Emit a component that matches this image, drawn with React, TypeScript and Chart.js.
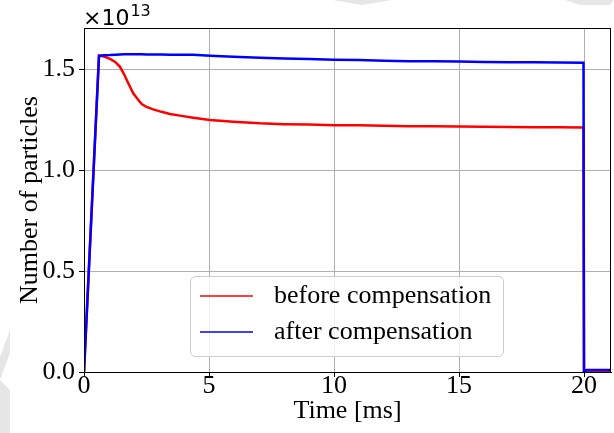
import React, { useEffect, useRef } from "react";
import { Chart, registerables } from "chart.js";

Chart.register(...registerables);

// time axis [ms]
const times = [0, 0.01, 0.6, 0.8, 1.04, 1.25, 1.44, 1.6, 1.71, 1.85, 1.97, 2.15, 2.31, 2.5, 2.77, 3.1, 3.44, 3.9, 4.37, 5.04, 5.97, 7.04, 8, 9, 10, 11, 12, 13, 14, 15, 16, 17, 18, 19, 19.98, 20.0, 20.1, 20.5, 21.08];
// number of particles [x1e13]
const beforeComp = [0, 0, 1.567, 1.562, 1.55, 1.535, 1.511, 1.475, 1.446, 1.41, 1.38, 1.35, 1.327, 1.312, 1.3, 1.288, 1.277, 1.268, 1.259, 1.248, 1.239, 1.231, 1.227, 1.225, 1.222, 1.221, 1.219, 1.217, 1.216, 1.215, 1.214, 1.213, 1.212, 1.212, 1.211, 0.0, 0.006, 0.008, 0.006];
const afterComp = [0, 0, 1.565, 1.568, 1.569, 1.571, 1.572, 1.573, 1.573, 1.573, 1.573, 1.573, 1.573, 1.572, 1.572, 1.572, 1.571, 1.571, 1.57, 1.566, 1.561, 1.556, 1.552, 1.549, 1.546, 1.544, 1.541, 1.539, 1.538, 1.537, 1.535, 1.534, 1.533, 1.532, 1.531, 0.0, 0.01, 0.01, 0.01];

const seriesLabels = ["before compensation", "after compensation"];
const seriesColors = ["#ff0000", "#0000ff"];
const xTicks = [0, 5, 10, 15, 20];
const yTicks = [0, 0.5, 1.0, 1.5];
const xTitle = "Time [ms]";
const yTitle = "Number of particles";
const exponentBase = "×10";
const exponentPower = "13";

const SERIF = "'Liberation Serif', 'Times New Roman', serif";
const SANS = "'DejaVu Sans', sans-serif";

const decorPlugin = {
  id: "decor",
  beforeDraw(chart: any) {
    const ctx = chart.ctx;
    ctx.save();
    ctx.fillStyle = "#e6e6e6";
    const tris = [
      [[333, 0], [392, 0], [362, 5]],
      [[565, 0], [614, 0], [610, 5], [580, 5]],
      [[10, 330], [10, 353], [0, 380], [0, 357]],
      [[0, 380], [10, 390], [10, 433], [0, 433]],
    ];
    for (const t of tris) {
      ctx.beginPath();
      ctx.moveTo(t[0][0], t[0][1]);
      for (let i = 1; i < t.length; i++) ctx.lineTo(t[i][0], t[i][1]);
      ctx.closePath();
      ctx.fill();
    }
    ctx.restore();
  },
  afterDatasetsDraw(chart: any) {
    const { ctx, chartArea: a } = chart;
    ctx.save();
    ctx.strokeStyle = "#000";
    ctx.lineWidth = 1;
    ctx.strokeRect(a.left + 0.5, a.top + 0.5, a.right - a.left - 1, a.bottom - a.top);
    ctx.restore();
  },
  afterDraw(chart: any) {
    const { ctx, chartArea: a } = chart;
    ctx.save();
    // axis titles
    ctx.fillStyle = "#000";
    ctx.font = `26px ${SERIF}`;
    ctx.textAlign = "center";
    ctx.textBaseline = "middle";
    ctx.fillText(xTitle, (a.left + a.right) / 2, 411);
    ctx.save();
    ctx.translate(30, (a.top + a.bottom) / 2);
    ctx.rotate(-Math.PI / 2);
    ctx.fillText(yTitle, 0, 0);
    ctx.restore();
    // exponent
    ctx.textAlign = "left";
    ctx.textBaseline = "alphabetic";
    ctx.font = `22px ${SANS}`;
    ctx.fillText(exponentBase, a.left - 1, 25);
    const w = ctx.measureText(exponentBase).width;
    ctx.font = `16px ${SANS}`;
    ctx.fillText(exponentPower, a.left + w, 16);
    // legend
    const bx = 190, by = 276, bw = 314, bh = 81, r = 5;
    ctx.fillStyle = "rgba(255,255,255,0.8)";
    ctx.strokeStyle = "#cccccc";
    ctx.lineWidth = 1;
    ctx.beginPath();
    ctx.moveTo(bx + r, by + 0.5);
    ctx.lineTo(bx + bw - r, by + 0.5);
    ctx.arcTo(bx + bw - 0.5, by + 0.5, bx + bw - 0.5, by + r, r);
    ctx.lineTo(bx + bw - 0.5, by + bh - r);
    ctx.arcTo(bx + bw - 0.5, by + bh - 0.5, bx + bw - r, by + bh - 0.5, r);
    ctx.lineTo(bx + r, by + bh - 0.5);
    ctx.arcTo(bx + 0.5, by + bh - 0.5, bx + 0.5, by + bh - r, r);
    ctx.lineTo(bx + 0.5, by + r);
    ctx.arcTo(bx + 0.5, by + 0.5, bx + r, by + 0.5, r);
    ctx.closePath();
    ctx.fill();
    ctx.stroke();
    const rows = [296, 332];
    chart.data.datasets.forEach((ds: any, i: number) => {
      const y = rows[i];
      ctx.strokeStyle = ds.borderColor;
      ctx.lineWidth = 1.5;
      ctx.beginPath();
      ctx.moveTo(200, y);
      ctx.lineTo(253, y);
      ctx.stroke();
      ctx.fillStyle = "#000";
      ctx.font = `26px ${SERIF}`;
      ctx.textBaseline = "middle";
      ctx.textAlign = "left";
      ctx.fillText(ds.label, 274, y);
    });
    ctx.restore();
  },
};

export default function App() {
  const ref = useRef<HTMLCanvasElement>(null);
  useEffect(() => {
    const canvas = ref.current!;
    const mk = (vals: number[]) => times.map((t, i) => ({ x: t, y: vals[i] }));
    const chart = new Chart(canvas, {
      type: "line",
      data: {
        datasets: [
          {
            label: seriesLabels[0],
            data: mk(beforeComp),
            borderColor: seriesColors[0],
            borderWidth: 2.5,
            pointRadius: 0,
            tension: 0,
            order: 2,
          },
          {
            label: seriesLabels[1],
            data: mk(afterComp),
            borderColor: seriesColors[1],
            borderWidth: 2.5,
            pointRadius: 0,
            tension: 0,
            order: 1,
          },
        ],
      },
      options: {
        responsive: false,
        animation: false,
        devicePixelRatio: 1,
        layout: { padding: { left: 0, right: 3, top: 28, bottom: 0 } },
        plugins: { legend: { display: false }, tooltip: { enabled: false } },
        scales: {
          x: {
            type: "linear",
            min: 0,
            max: 21.08,
            afterBuildTicks: (s: any) => {
              s.ticks = xTicks.map((v) => ({ value: v }));
            },
            afterFit: (s: any) => {
              s.height = 61;
            },
            ticks: {
              color: "#000",
              font: { family: SERIF, size: 26, lineHeight: 1 },
              padding: -4,
              maxRotation: 0,
              autoSkip: false,
              callback: (v: any) => String(v),
            },
            grid: { color: "#b0b0b0", lineWidth: 1, tickLength: 5, tickColor: "#000" },
            border: { display: true, color: "#000", width: 1 },
          },
          y: {
            type: "linear",
            min: 0,
            max: 1.703,
            afterBuildTicks: (s: any) => {
              s.ticks = yTicks.map((v) => ({ value: v }));
            },
            afterFit: (s: any) => {
              s.width = 84;
            },
            ticks: {
              color: "#000",
              font: { family: SERIF, size: 26, lineHeight: 1 },
              padding: 4,
              autoSkip: false,
              callback: (v: any) => Number(v).toFixed(1),
            },
            grid: { color: "#b0b0b0", lineWidth: 1, tickLength: 5, tickColor: "#000" },
            border: { display: true, color: "#000", width: 1 },
          },
        },
      },
      plugins: [decorPlugin],
    });
    return () => chart.destroy();
  }, []);
  return (
    <div style={{ position: "fixed", left: 0, top: 0, width: 614, height: 433, background: "#fff" }}>
      <canvas ref={ref} width={614} height={433} style={{ display: "block" }} />
    </div>
  );
}
